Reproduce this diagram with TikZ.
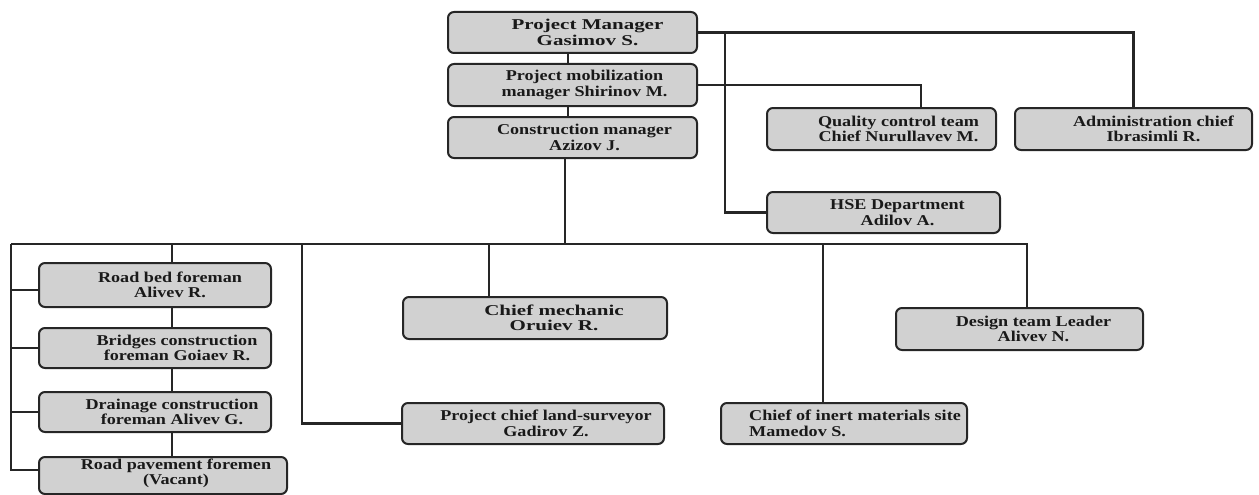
\documentclass[tikz,border=0pt]{standalone}
\usepackage{fontspec}
\setmainfont{Liberation Serif}[FakeStretch=1.21]
\newfontfamily\widefont{Liberation Serif}[FakeStretch=1.4]
\begin{document}
\begin{tikzpicture}[x=1pt,y=-1pt,
  box/.style={draw=black!85, line width=2pt, rounded corners=6pt, fill=black!18, inner sep=0pt},
  txt/.style={align=center, font=\fontsize{15}{15.5}\selectfont\bfseries, inner sep=0pt, text=black!90},
  wtxt/.style={txt, font=\fontsize{15}{15.5}\selectfont\widefont\bfseries},
  link/.style={draw=black!85, line width=2.3pt}]
\useasboundingbox (0,0) rectangle (1259,495);
% junction coordinates
\coordinate (xa) at (568,0);
\coordinate (xc) at (565,0);
\coordinate (xh) at (725,32.5);
\coordinate (xq) at (921,0);
\coordinate (busl) at (11,244);
\coordinate (busr) at (1027,244);
\coordinate (lbot) at (11,470);
\coordinate (xl2) at (172,0);
\coordinate (xls) at (302,0);
\coordinate (xcm) at (489,0);
\coordinate (xin) at (823,0);
\coordinate (yrb) at (0,290);
\coordinate (ybr) at (0,348);
\coordinate (ydr) at (0,412);
% boxes
\node[box, minimum width=249pt, minimum height=41pt] (pm)  at (572.5,32.5) {};
\node[box, minimum width=249pt, minimum height=42pt] (mob) at (572.5,85) {};
\node[box, minimum width=249pt, minimum height=41pt] (con) at (572.5,137.5) {};
\node[box, minimum width=229pt, minimum height=42pt] (qc)  at (881.5,129) {};
\node[box, minimum width=237pt, minimum height=42pt] (adm) at (1133.5,129) {};
\node[box, minimum width=233pt, minimum height=41pt] (hse) at (883.5,212.5) {};
\node[box, minimum width=232pt, minimum height=44pt] (rb)  at (155,285) {};
\node[box, minimum width=232pt, minimum height=40pt] (br)  at (155,348) {};
\node[box, minimum width=232pt, minimum height=40pt] (dr)  at (155,412) {};
\node[box, minimum width=248pt, minimum height=37pt] (pv)  at (163,475.5) {};
\node[box, minimum width=264pt, minimum height=42pt] (cm)  at (535,318) {};
\node[box, minimum width=262pt, minimum height=41pt] (ls)  at (533,423.5) {};
\node[box, minimum width=246pt, minimum height=41pt] (in)  at (844,423.5) {};
\node[box, minimum width=247pt, minimum height=42pt] (dt)  at (1019.5,329) {};
% texts
\node[wtxt] (pmt)  at ([xshift=15pt]pm.center)  {Project Manager\\Gasimov S.};
\node[txt] (mobt) at ([xshift=12pt]mob.center) {Project mobilization\\manager Shirinov M.};
\node[txt] (cont) at ([xshift=12pt]con.center) {Construction manager\\Azizov J.};
\node[txt] (qct)  at ([xshift=17pt]qc.center)  {Quality control team\\Chief Nurullavev M.};
\node[txt] (admt) at ([xshift=20pt]adm.center) {Administration chief\\Ibrasimli R.};
\node[txt] (hset) at ([xshift=14pt]hse.center) {HSE Department\\Adilov A.};
\node[txt] (rbt)  at ([xshift=15pt]rb.center)  {Road bed foreman\\Alivev R.};
\node[txt] (brt)  at ([xshift=22pt]br.center)  {Bridges construction\\foreman Goiaev R.};
\node[txt] (drt)  at ([xshift=17pt]dr.center)  {Drainage construction\\foreman Alivev G.};
\node[txt] (pvt)  at ([xshift=13pt,yshift=2pt]pv.center) {Road pavement foremen\\(Vacant)};
\node[wtxt] (cmt)  at ([xshift=19pt]cm.center)  {Chief mechanic\\Oruiev R.};
\node[txt] (lst)  at ([xshift=13pt]ls.center)  {Project chief land-surveyor\\Gadirov Z.};
\node[txt, align=left, anchor=west] (int) at ([xshift=29pt]in.west) {Chief of inert materials site\\Mamedov S.};
\node[txt] (dtt)  at ([xshift=14pt]dt.center)  {Design team Leader\\Alivev N.};
% connectors
\draw[link] (pm.south -| xa) -- (mob.north -| xa);
\draw[link] (mob.south -| xa) -- (con.north -| xa);
\draw[link] (pm.east) -| (adm.north);
\draw[link] (xh) |- (hse.west);
\draw[link] (mob.east) -- (mob.east -| xq) -- (qc.north -| xq);
\draw[link] (con.south -| xc) -- (busl -| xc);
\draw[link] (busl) -- (busr) -- (dt.north -| busr);
\draw[link] (busl) -- (lbot) -- (lbot -| pv.west);
\draw[link] (busl |- yrb) -- (rb.west |- yrb);
\draw[link] (busl |- ybr) -- (br.west |- ybr);
\draw[link] (busl |- ydr) -- (dr.west |- ydr);
\draw[link] (busl -| xl2) -- (rb.north -| xl2);
\draw[link] (rb.south -| xl2) -- (br.north -| xl2);
\draw[link] (br.south -| xl2) -- (dr.north -| xl2);
\draw[link] (dr.south -| xl2) -- (pv.north -| xl2);
\draw[link] (busl -| xls) |- (ls.west);
\draw[link] (busl -| xcm) -- (cm.north -| xcm);
\draw[link] (busl -| xin) -- (in.north -| xin);
\end{tikzpicture}
\end{document}
